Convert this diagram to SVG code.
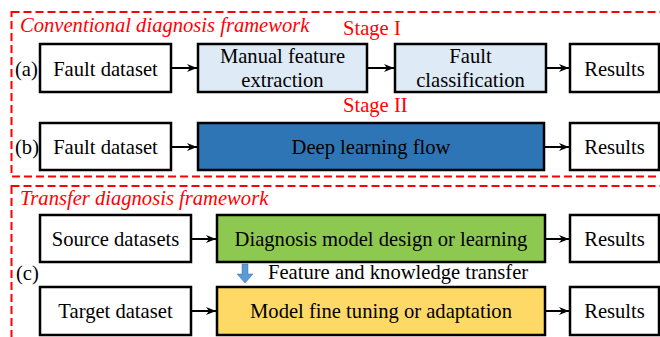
<svg xmlns="http://www.w3.org/2000/svg" width="660" height="337" viewBox="0 0 660 337">
<defs>
<marker id="ah" viewBox="0 0 10 10" refX="10" refY="5" markerWidth="10" markerHeight="10" markerUnits="userSpaceOnUse" orient="auto">
<path d="M0,1 L10,5 L0,9 L3,5 Z" fill="#000"/>
</marker>
</defs>
<style>
.t{font-family:'Liberation Serif','Times New Roman',Tinos,'DejaVu Serif',serif;font-size:20.6px;fill:#000}
.c{text-anchor:middle}
.red{fill:#ff0000}
.it{font-style:italic}
.frame{fill:none;stroke:#ff0000;stroke-width:2;stroke-dasharray:8 4}
.box{stroke:#000;stroke-width:2.5}
.conn line{stroke:#000;stroke-width:2;marker-end:url(#ah)}
</style>
<rect width="660" height="337" fill="#fff"/>
<rect class="frame" x="11.5" y="12" width="660" height="164.5"/>
<rect class="frame" x="11.5" y="186" width="660" height="160"/>
<text class="t red it" x="20" y="32">Conventional diagnosis framework</text>
<text class="t red it" x="20" y="205">Transfer diagnosis framework</text>
<text class="t red" x="343" y="35">Stage I</text>
<text class="t red" x="343" y="112">Stage II</text>
<text class="t" x="15" y="76">(a)</text>
<text class="t" x="15" y="154">(b)</text>
<text class="t" x="16" y="280">(c)</text>

<g id="a_fault"><rect class="box" x="40" y="44" width="131" height="48" fill="#fff"/><text class="t c" x="105.5" y="76">Fault dataset</text></g>
<g id="a_manual"><rect class="box" x="198" y="44" width="169" height="48" fill="#deebf7"/><text class="t c" x="282.5" y="63">Manual feature</text><text class="t c" x="282.5" y="87">extraction</text></g>
<g id="a_class"><rect class="box" x="395" y="44" width="151" height="48" fill="#deebf7"/><text class="t c" x="470.5" y="63">Fault</text><text class="t c" x="470.5" y="87">classification</text></g>
<g id="a_results"><rect class="box" x="570" y="44" width="89" height="48" fill="#fff"/><text class="t c" x="614.5" y="76">Results</text></g>

<g id="b_fault"><rect class="box" x="40" y="123" width="131" height="47" fill="#fff"/><text class="t c" x="105.5" y="154">Fault dataset</text></g>
<g id="b_deep"><rect class="box" x="198" y="123" width="346" height="47" fill="#2e75b6"/><text class="t c" x="371" y="154">Deep learning flow</text></g>
<g id="b_results"><rect class="box" x="570" y="123" width="89" height="47" fill="#fff"/><text class="t c" x="614.5" y="154">Results</text></g>

<g id="c_source"><rect class="box" x="40" y="215" width="151" height="47" fill="#fff"/><text class="t c" x="115.5" y="246">Source datasets</text></g>
<g id="c_design"><rect class="box" x="217" y="215" width="328" height="47" fill="#8dc950"/><text class="t c" x="381" y="246">Diagnosis model design or learning</text></g>
<g id="c_results1"><rect class="box" x="570" y="215" width="89" height="47" fill="#fff"/><text class="t c" x="614.5" y="246">Results</text></g>

<g id="c_target"><rect class="box" x="40" y="287" width="151" height="48" fill="#fff"/><text class="t c" x="115.5" y="318">Target dataset</text></g>
<g id="c_tune"><rect class="box" x="217" y="287" width="328" height="48" fill="#ffd966"/><text class="t c" x="381" y="318">Model fine tuning or adaptation</text></g>
<g id="c_results2"><rect class="box" x="570" y="287" width="89" height="48" fill="#fff"/><text class="t c" x="614.5" y="318">Results</text></g>

<g id="transfer"><path d="M242,264 H248 V274 H253 L245,283 L237,274 H242 Z" fill="#5b9bd5" stroke="#41719c" stroke-width="0.5"/><text class="t" x="268" y="279">Feature and knowledge transfer</text></g>

<g class="conn">
<line x1="172" y1="68" x2="197" y2="68"/>
<line x1="368" y1="68" x2="394" y2="68"/>
<line x1="547" y1="68" x2="569" y2="68"/>
<line x1="172" y1="147" x2="197" y2="147"/>
<line x1="545" y1="147" x2="569" y2="147"/>
<line x1="192" y1="239" x2="216" y2="239"/>
<line x1="546" y1="239" x2="569" y2="239"/>
<line x1="192" y1="311" x2="216" y2="311"/>
<line x1="546" y1="311" x2="569" y2="311"/>
</g>
</svg>
